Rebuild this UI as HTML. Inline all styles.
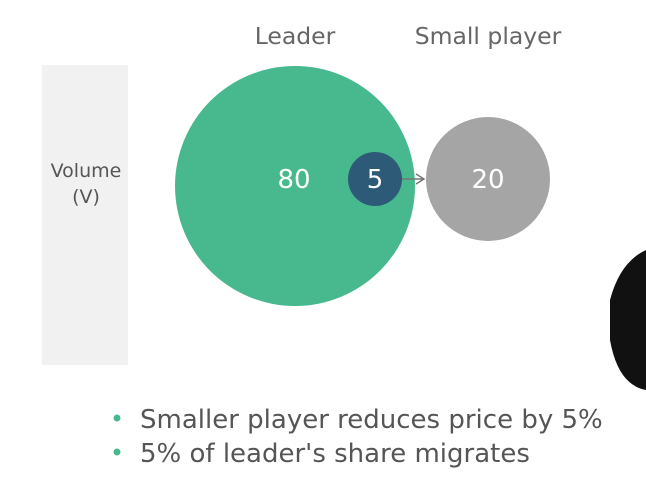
<!DOCTYPE html>
<html><head><meta charset="utf-8"><style>
html,body{margin:0;padding:0;background:#fff;width:646px;height:487px;overflow:hidden}
svg{display:block;font-family:"DejaVu Sans","Liberation Sans",sans-serif}
</style></head><body>
<svg width="646" height="487" viewBox="0 0 646 487">
<rect x="42" y="65" width="86" height="300" fill="#f1f1f1"/>
<text x="86" y="177" font-size="19" fill="#555" text-anchor="middle">Volume</text>
<text x="86" y="203" font-size="19" fill="#555" text-anchor="middle">(V)</text>
<text x="295" y="44" font-size="23.5" fill="#666" text-anchor="middle">Leader</text>
<text x="488" y="44" font-size="23.5" fill="#666" text-anchor="middle">Small player</text>
<g id="circles"></g>
<path d="M610 300 Q620 262 646 250 L646 390 Q618 385 610 340 Z" fill="#111"/>
<circle cx="117" cy="418" r="3.5" fill="#48b98f"/>
<text x="140" y="428" font-size="26" fill="#555">Smaller player reduces price by 5%</text>
<circle cx="117" cy="452" r="3.5" fill="#48b98f"/>
<text x="140" y="462" font-size="26" fill="#555">5% of leader's share migrates</text>
</svg>
<script>
const labels=["80","20","5"];
const values=[80,20,5];
const names=["leader-circle","small-player-circle","migrating-share-circle"];
const cxs=[295,488,375];const cys=[186,179,179];const radii=[120,62,27];
const fills=["#48b98f","#a5a5a5","#2d5a77"];
const g=document.getElementById('circles');
const NS="http://www.w3.org/2000/svg";
for(let i=0;i<values.length;i++){
  const c=document.createElementNS(NS,'circle');
  c.setAttribute('cx',cxs[i]);c.setAttribute('cy',cys[i]);c.setAttribute('r',radii[i]);c.setAttribute('fill',fills[i]);
  
  
  g.appendChild(c);
  if(i===2){
    const a=document.createElementNS(NS,'path');
    a.setAttribute('d','M402 179 L424 179 M416 174 L424 179 L416 184');
    a.setAttribute('stroke','#777');a.setAttribute('fill','none');a.setAttribute('stroke-width','1.5');
    
    
    g.appendChild(a);
  }
  const t=document.createElementNS(NS,'text');
  t.setAttribute('x',i===0?294:cxs[i]);t.setAttribute('y',179+9);t.setAttribute('text-anchor','middle');
  t.setAttribute('font-size','26');t.setAttribute('fill','#fff');
  t.textContent=labels[i];
  
  
  g.appendChild(t);
}
</script>
</body></html>
